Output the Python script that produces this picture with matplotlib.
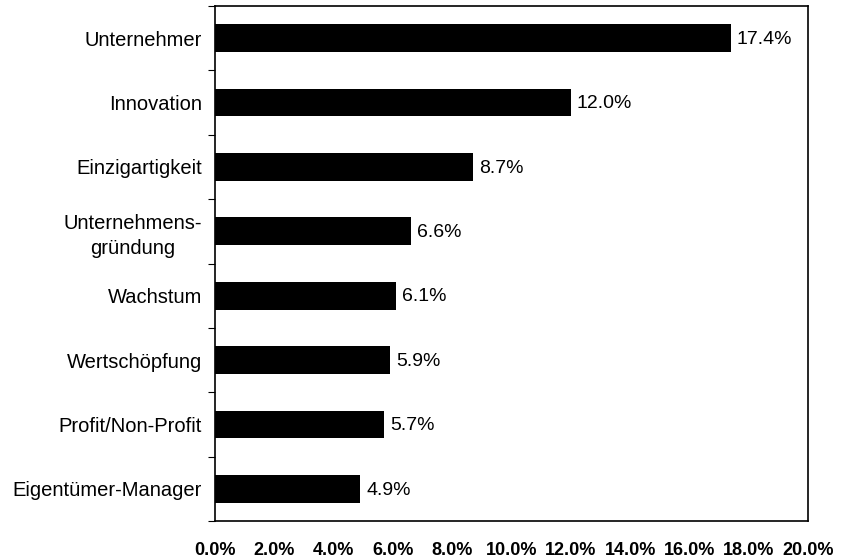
import matplotlib
matplotlib.use("Agg")
import matplotlib.pyplot as plt
from matplotlib.ticker import FixedLocator

categories = ["Unternehmer", "Innovation", "Einzigartigkeit", "Unternehmens-\ngründung",
              "Wachstum", "Wertschöpfung", "Profit/Non-Profit", "Eigentümer-Manager"]
values = [17.4, 12.0, 8.7, 6.6, 6.1, 5.9, 5.7, 4.9]
xticks = [0, 2, 4, 6, 8, 10, 12, 14, 16, 18, 20]

plt.rcParams['font.family'] = ['Liberation Sans', 'DejaVu Sans']

fig = plt.figure(figsize=(8.41, 5.59), dpi=100)
ax = fig.add_axes([215/841, 1-521/559, (808-215)/841, (521-6)/559])

n = len(categories)
ypos = list(range(n))
ax.barh(ypos, values, height=0.43, color='black')
ax.set_ylim(n - 0.5, -0.5)
ax.set_xlim(0, 20)

for y, v in zip(ypos, values):
    ax.text(v + 0.2, y + 0.02, f"{v:.1f}%", va='center', ha='left', fontsize=14)

ax.set_yticks(ypos)
ax.set_yticklabels(categories, fontsize=14.5, ha='right', multialignment='center',
                   linespacing=1.35)
ax.tick_params(axis='y', which='major', length=0, pad=9.5)
ax.yaxis.set_minor_locator(FixedLocator([i + 0.5 for i in range(-1, n)]))
ax.tick_params(axis='y', which='minor', length=5, direction='out', width=0.8)

ax.set_xticks(xticks)
ax.set_xticklabels([f"{t:.1f}%" for t in xticks], fontsize=13, fontweight='bold')
ax.tick_params(axis='x', length=0, pad=15)

for s in ax.spines.values():
    s.set_linewidth(1.2)

fig.savefig("out.png", dpi=100)
